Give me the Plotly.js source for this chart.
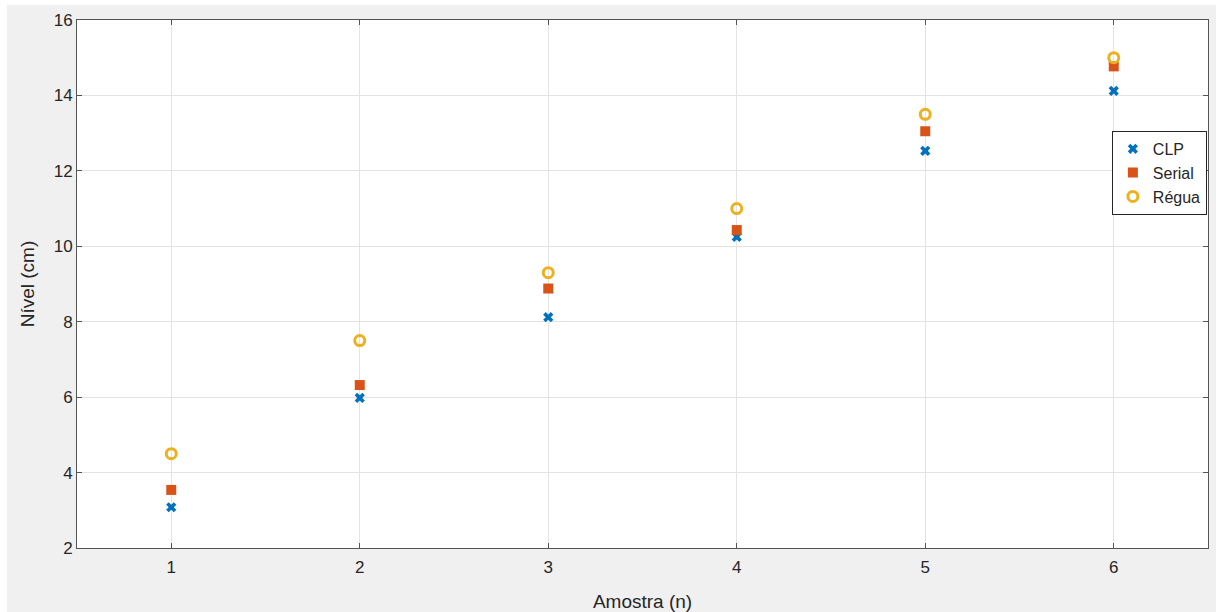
<!DOCTYPE html>
<html>
<head>
<meta charset="utf-8">
<script src="https://cdn.plot.ly/plotly-3.0.1.min.js"></script>
<style>
html,body{margin:0;padding:0;background:#ffffff;}
#chart{position:absolute;left:7px;top:5px;width:1209px;height:607px;}
</style>
</head>
<body>
<div id="chart"></div>
<script>
const amostras = [1, 2, 3, 4, 5, 6];
const clp = [3.08, 5.98, 8.12, 10.25, 12.53, 14.12];
const serial = [3.54, 6.32, 8.88, 10.43, 13.05, 14.77];
const regua = [4.5, 7.5, 9.3, 11.0, 13.5, 15.0];
const xTicks = [1, 2, 3, 4, 5, 6];
const yTicks = [2, 4, 6, 8, 10, 12, 14, 16];

const traces = [
  {x: amostras, y: clp, name: 'CLP', mode: 'markers', type: 'scatter',
   marker: {symbol: 'x', size: 9, color: '#0072BD', line: {width: 0}}},
  {x: amostras, y: serial, name: 'Serial', mode: 'markers', type: 'scatter',
   marker: {symbol: 'square', size: 10, color: '#D95319', line: {width: 0}}},
  {x: amostras, y: regua, name: 'Régua', mode: 'markers', type: 'scatter',
   marker: {symbol: 'circle-open', size: 10, color: '#EDB120', line: {width: 3, color: '#EDB120'}}}
];

const axisCommon = {
  showline: true, mirror: 'ticks', linecolor: '#555555', linewidth: 1,
  ticks: 'inside', ticklen: 5, tickcolor: '#555555',
  showgrid: true, gridcolor: '#e3e3e3', gridwidth: 1, zeroline: false,
  tickfont: {family: 'Liberation Sans, Arial, sans-serif', size: 17, color: '#262626'}
};

const layout = {
  paper_bgcolor: '#f0f0f0',
  plot_bgcolor: '#ffffff',
  margin: {l: 70, r: 8, t: 15, b: 64},
  showlegend: true,
  font: {family: 'Liberation Sans, Arial, sans-serif', color: '#262626'},
  xaxis: Object.assign({}, axisCommon, {
    range: [0.5, 6.5], tickvals: xTicks, ticklabelstandoff: 4,
    title: {text: 'Amostra (n)', font: {size: 19, color: '#262626'}, standoff: 18}
  }),
  yaxis: Object.assign({}, axisCommon, {
    range: [2, 16], tickvals: yTicks,
    title: {text: 'Nível (cm)', font: {size: 19, color: '#262626'}, standoff: 14}
  }),
  legend: {
    x: 0.999, xanchor: 'right', y: 0.79, yanchor: 'top',
    bgcolor: '#ffffff', bordercolor: '#262626', borderwidth: 1,
    font: {size: 16, color: '#262626'},
    itemwidth: 30, tracegroupgap: 0
  }
};

Plotly.newPlot('chart', traces, layout, {displayModeBar: false, staticPlot: true});
</script>
</body>
</html>
